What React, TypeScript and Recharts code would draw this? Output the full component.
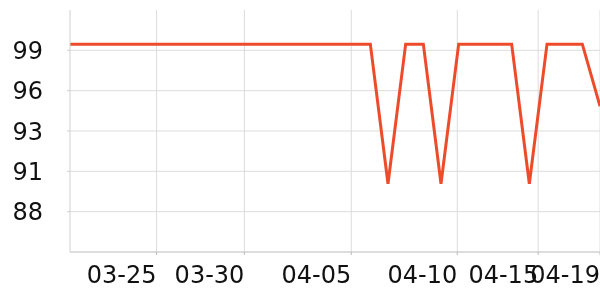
import { CartesianGrid, Line, LineChart, XAxis, YAxis } from "recharts";

// daily readings, one per point along the x axis
const values = [
  99, 99, 99, 99, 99, 99, 99, 99, 99, 99, 99, 99, 99, 99, 99, 99, 99, 99,
  90, 99, 99, 90, 99, 99, 99, 99, 90, 99, 99, 99, 95,
];

const tickPositions = [4.9, 9.87, 15.92, 21.92, 26.5, 30];
const tickLabels = ["03-25", "03-30", "04-05", "04-10", "04-15", "04-19"];

const yTicks = [88.2, 90.8, 93.4, 96, 98.6];

const data = values.map((v, i) => ({ idx: i, value: v }));

const FONT = "DejaVu Sans";

function XTick(props: any) {
  const { x, y, payload } = props;
  const i = tickPositions.indexOf(payload.value);
  return (
    <text x={x} y={y} dy="0.71em" textAnchor="end" fontSize={24} fontFamily={FONT} fill="#111">
      {tickLabels[i]}
    </text>
  );
}

function YTick(props: any) {
  const { x, y, payload } = props;
  return (
    <text x={x} y={y} dy="0.355em" textAnchor="end" fontSize={24} fontFamily={FONT} fill="#111">
      {Math.round(payload.value)}
    </text>
  );
}

export default function App() {
  return (
    <div style={{ position: "fixed", left: 0, top: 0 }}>
      <LineChart width={600} height={300} data={data} margin={{ top: 10, right: 0, left: 0, bottom: 0 }}>
        <CartesianGrid stroke="#dcdcdc" strokeWidth={1} syncWithTicks />
        <XAxis
          dataKey="idx"
          type="number"
          domain={[0, 30]}
          ticks={tickPositions}
          tick={<XTick />}
          height={48}
          tickSize={3}
          tickMargin={11}
          stroke="#bbb"
          interval={0}
        />
        <YAxis
          type="number"
          domain={[85.6, 101.2]}
          ticks={yTicks}
          tick={<YTick />}
          width={70}
          tickSize={3}
          tickMargin={24}
          stroke="#d0d0d0"
          interval={0}
          allowDataOverflow
        />
        <Line
          type="linear"
          dataKey="value"
          stroke="#ee4b2b"
          strokeWidth={3}
          dot={false}
          isAnimationActive={false}
        />
      </LineChart>
    </div>
  );
}
